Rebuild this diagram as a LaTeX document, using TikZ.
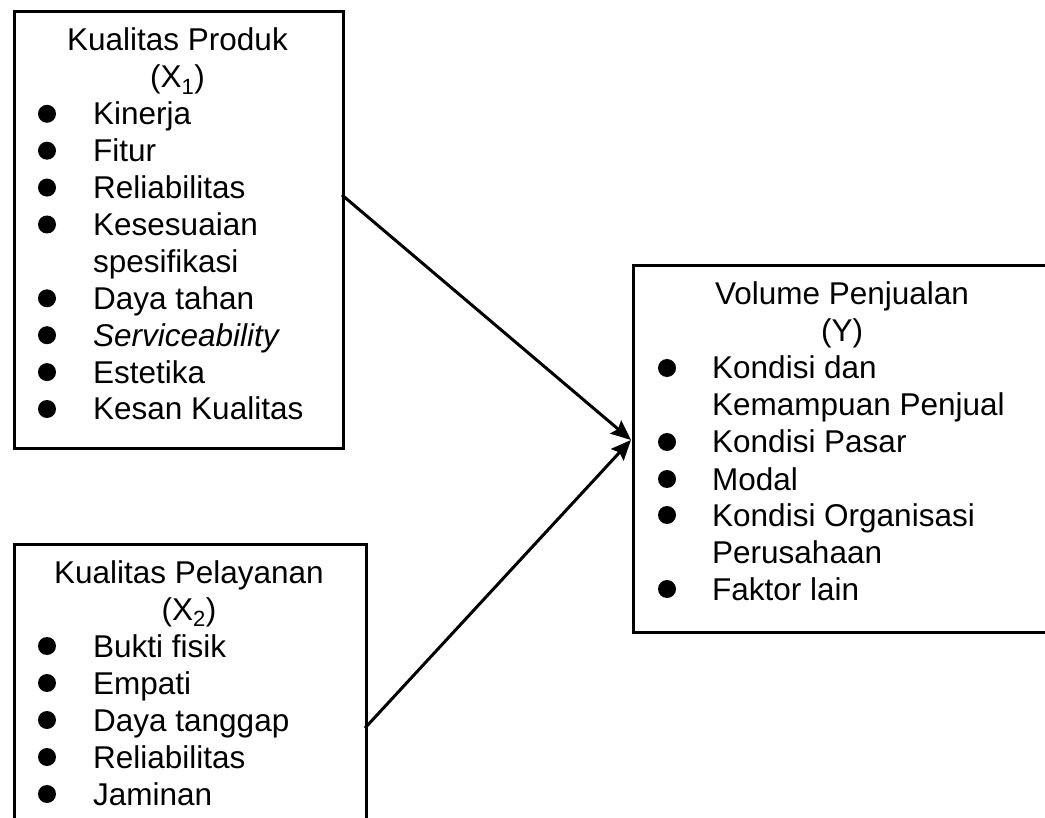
\documentclass[tikz,border=0pt]{standalone}
\usepackage{fontspec}
\setmainfont{Liberation Sans}
\usetikzlibrary{arrows.meta}
\begin{document}
\begin{tikzpicture}[x=1pt,y=-1pt,
  box/.style={draw, line width=3pt, inner sep=0pt, anchor=north west},
  lbl/.style={font=\fontsize{31.5}{36}\selectfont, inner sep=0pt},
  item/.style={lbl, anchor=base west},
  ttl/.style={lbl, anchor=base},
  bul/.style={circle, fill, inner sep=0pt, minimum size=18pt},
  arr/.style={line width=3pt, -{Stealth[length=20pt,width=17pt,inset=3pt]}}]
\clip (0,0) rectangle (1045,818);
% boxes
\node[box, minimum width=329pt, minimum height=437pt] (b1) at (13,10) {};
\node[box, minimum width=352pt, minimum height=300pt] (b2) at (13,543) {};
\node[box, minimum width=420pt, minimum height=367pt] (b3) at (632,264) {};
% box 1
\node[ttl] (b1t) at (177.5,51) {Kualitas Produk};
\node[ttl] (b1x) at (177.5,87.9) {(X\textsubscript{1})};
\node[item] (b1i1) at (93,124.8) {Kinerja};
\node[item] (b1i2) at (93,161.7) {Fitur};
\node[item] (b1i3) at (93,198.6) {Reliabilitas};
\node[item] (b1i4) at (93,235.5) {Kesesuaian};
\node[item] (b1i4b) at (93,272.4) {spesifikasi};
\node[item] (b1i5) at (93,309.3) {Daya tahan};
\node[item] (b1i6) at (93,346.2) {\textit{Serviceability}};
\node[item] (b1i7) at (93,383.1) {Estetika};
\node[item] (b1i8) at (93,420) {Kesan Kualitas};
\node[bul] (b1d1) at (47,113.8) {};
\node[bul] (b1d2) at (47,150.7) {};
\node[bul] (b1d3) at (47,187.6) {};
\node[bul] (b1d4) at (47,224.5) {};
\node[bul] (b1d5) at (47,298.3) {};
\node[bul] (b1d6) at (47,335.2) {};
\node[bul] (b1d7) at (47,372.1) {};
\node[bul] (b1d8) at (47,409) {};
% box 2
\node[ttl] (b2t) at (189,583) {Kualitas Pelayanan};
\node[ttl] (b2x) at (189,620) {(X\textsubscript{2})};
\node[item] (b2i1) at (93,657) {Bukti fisik};
\node[item] (b2i2) at (93,694) {Empati};
\node[item] (b2i3) at (93,731) {Daya tanggap};
\node[item] (b2i4) at (93,768) {Reliabilitas};
\node[item] (b2i5) at (93,805) {Jaminan};
\node[bul] (b2d1) at (47,646) {};
\node[bul] (b2d2) at (47,683) {};
\node[bul] (b2d3) at (47,720) {};
\node[bul] (b2d4) at (47,757) {};
\node[bul] (b2d5) at (47,794) {};
% box 3
\node[ttl] (b3t) at (842,305) {Volume Penjualan};
\node[ttl] (b3x) at (842,342) {(Y)};
\node[item] (b3i1) at (712,379) {Kondisi dan};
\node[item] (b3i1b) at (712,416) {Kemampuan Penjual};
\node[item] (b3i2) at (712,453) {Kondisi Pasar};
\node[item] (b3i3) at (712,490) {Modal};
\node[item] (b3i4) at (712,526) {Kondisi Organisasi};
\node[item] (b3i4b) at (712,563) {Perusahaan};
\node[item] (b3i5) at (712,600) {Faktor lain};
\node[bul] (b3d1) at (667,368) {};
\node[bul] (b3d2) at (667,442) {};
\node[bul] (b3d3) at (667,479) {};
\node[bul] (b3d4) at (667,515) {};
\node[bul] (b3d5) at (667,589) {};
% connectors
\coordinate (s1) at (342,195);
\coordinate (s2) at (365,728);
\coordinate (tg) at (631,440);
\draw[arr] (s1) -- (tg);
\draw[arr] (s2) -- (tg);
\end{tikzpicture}
\end{document}
